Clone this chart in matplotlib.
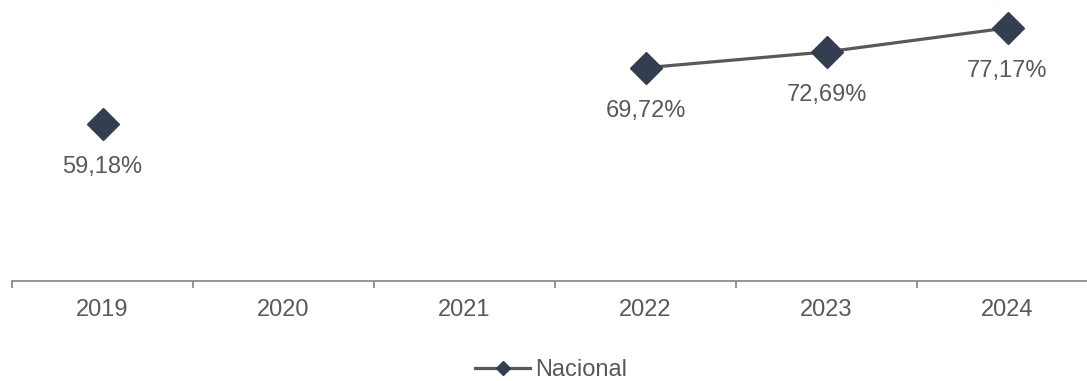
import matplotlib
matplotlib.use("Agg")
import matplotlib.pyplot as plt
import numpy as np
from matplotlib.lines import Line2D

years = ["2019", "2020", "2021", "2022", "2023", "2024"]
nacional = [59.18, np.nan, np.nan, 69.72, 72.69, 77.17]
labels = ["59,18%", "", "", "69,72%", "72,69%", "77,17%"]

plt.rcParams['font.family'] = ['Liberation Sans', 'DejaVu Sans']

W, H = 1087, 381
fig = plt.figure(figsize=(W / 100, H / 100), dpi=100)
left_px, axis_y_px = 12, 281
ax = fig.add_axes([left_px / W, 1 - axis_y_px / H, (W - left_px) / W, axis_y_px / H])

x = np.arange(len(years))
line_color = "#595959"
marker_color = "#333F50"
text_color = "#595959"

ax.plot(x, nacional, color=line_color, lw=2.3, marker="D", ms=16.5,
        mfc=marker_color, mec=marker_color, zorder=3)

for xi, v, lab in zip(x, nacional, labels):
    if lab:
        ax.annotate(lab, (xi, v), xytext=(0, -31), textcoords="offset points",
                    ha="center", va="center", fontsize=17, color=text_color)

for s in ["top", "right", "left"]:
    ax.spines[s].set_visible(False)
ax.spines["bottom"].set_color("#8c8c8c")
ax.spines["bottom"].set_linewidth(1.3)
ax.set_yticks([])

ax.set_xticks(x)
ax.set_xticklabels(years, fontsize=17, color=text_color)
ax.tick_params(axis="x", which="major", length=0, pad=13)
ax.set_xticks(np.arange(-0.5, len(years), 1.0), minor=True)
ax.tick_params(axis="x", which="minor", length=5, width=1.3, color="#8c8c8c", direction="out")

ax.set_xlim(-0.5, -0.5 + (W - left_px) / 181.0)
ax.set_ylim(29.8, 82.4)

handle = Line2D([], [], color=line_color, lw=2.3, marker="D", ms=7.5,
                mfc=marker_color, mec=marker_color)
fig.legend([handle], ["Nacional"], loc="center",
           bbox_to_anchor=(551 / W, 1 - 370 / H), frameon=False,
           fontsize=17, handlelength=2.33, handletextpad=0.21, borderpad=0,
           labelcolor=text_color)

fig.savefig("out.png", dpi=100)
